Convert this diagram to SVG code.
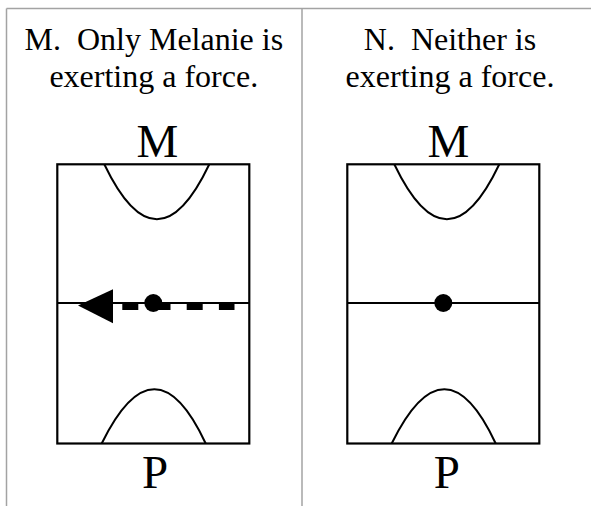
<svg xmlns="http://www.w3.org/2000/svg" width="591" height="506" viewBox="0 0 591 506">
  <style>
    .grid { stroke: #a3a3a3; stroke-width: 1.5; fill: none; }
    .box { stroke: #000; stroke-width: 2.2; fill: #fff; }
    .curve { stroke: #000; stroke-width: 2; fill: none; }
    .axis { stroke: #000; stroke-width: 2; }
    .hdr { font-family: "Liberation Serif", "Times New Roman", serif; font-size: 32px; fill: #000; text-anchor: middle; white-space: pre; }
    .lbl { font-family: "Liberation Serif", "Times New Roman", serif; font-size: 47px; fill: #000; text-anchor: middle; }
  </style>
  <rect width="591" height="506" fill="#fff"/>

  <g id="table">
    <line class="grid" x1="6.5" y1="8.5" x2="591" y2="8.5"/>
    <line class="grid" x1="6.5" y1="8.5" x2="6.5" y2="506"/>
    <line class="grid" x1="302" y1="8.5" x2="302" y2="506"/>
  </g>

  <g id="panel-M">
    <text class="hdr" x="153.8" y="50" xml:space="preserve">M.  Only Melanie is</text>
    <text class="hdr" x="153.8" y="86.7">exerting a force.</text>
    <text class="lbl" x="157.5" y="156.7">M</text>
    <rect class="box" x="57.3" y="164.3" width="192" height="279.2"/>
    <path class="curve" d="M104.3,164.3 Q157,274.3 209.3,164.3"/>
    <path class="curve" d="M101.7,443.5 Q155,335.1 205.7,443.5"/>
    <line class="axis" x1="57.3" y1="303" x2="249.3" y2="303"/>
    <text class="lbl" x="155" y="488.3">P</text>
  </g>

  <g id="connectors">
    <line x1="122.3" y1="306.5" x2="234.5" y2="306.5" stroke="#000" stroke-width="7" stroke-dasharray="16 16.2"/>
    <polygon points="78,305.5 113,289.3 113,323.3" fill="#000"/>
  </g>

  <g id="object-M">
    <circle cx="153.3" cy="303" r="9" fill="#000"/>
  </g>

  <g id="panel-N">
    <text class="hdr" x="450" y="50" xml:space="preserve">N.  Neither is</text>
    <text class="hdr" x="450" y="86.7">exerting a force.</text>
    <text class="lbl" x="448.3" y="156.7">M</text>
    <rect class="box" x="347.3" y="164.3" width="192" height="279.2"/>
    <path class="curve" d="M394.3,164.3 Q447,274.3 499.3,164.3"/>
    <path class="curve" d="M391.7,443.5 Q445,335.1 495.7,443.5"/>
    <line class="axis" x1="347.3" y1="303" x2="539.3" y2="303"/>
    <text class="lbl" x="446.7" y="488.3">P</text>
  </g>

  <g id="object-N">
    <circle cx="443.3" cy="303" r="9" fill="#000"/>
  </g>
</svg>
